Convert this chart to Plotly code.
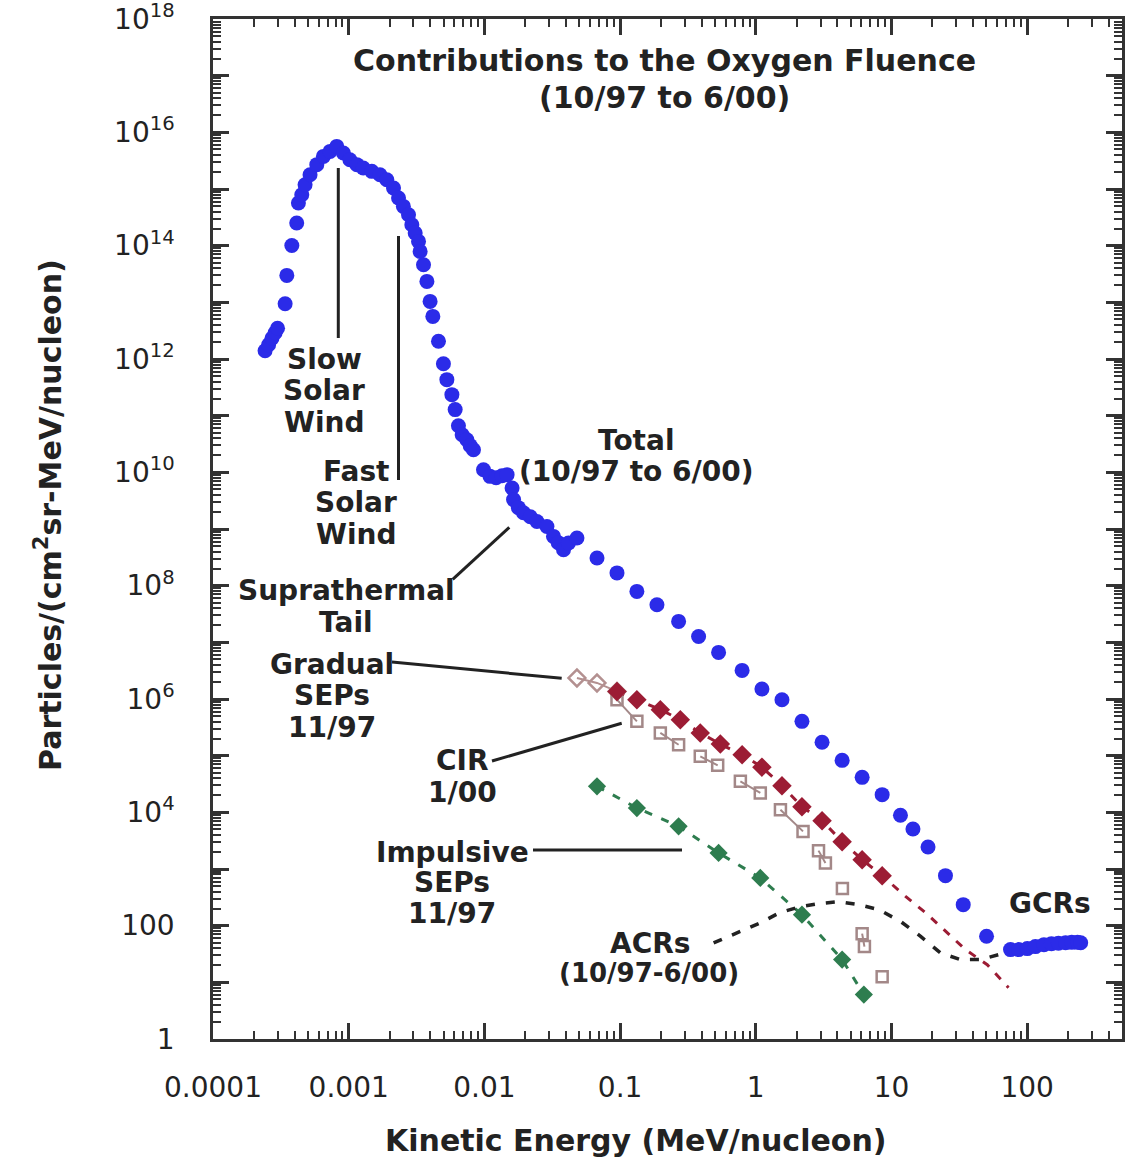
import plotly.graph_objects as go

# ---- Oxygen fluence contributions, 10/97 to 6/00 ----
# Total fluence (solar wind peak, suprathermal tail, high-energy tail, GCRs)
total_energy = [2.42e-4, 2.57e-4, 2.72e-4, 2.87e-4, 2.99e-4,
                3.40e-4, 3.50e-4, 3.81e-4, 4.14e-4, 4.26e-4,
                4.51e-4, 4.77e-4, 5.19e-4, 5.82e-4, 6.51e-4,
                7.29e-4, 8.17e-4, 9.14e-4, 1.02e-3, 1.15e-3,
                1.28e-3, 1.48e-3, 1.70e-3, 1.91e-3, 2.14e-3,
                2.33e-3, 2.53e-3, 2.76e-3, 2.92e-3, 3.09e-3,
                3.27e-3, 3.36e-3, 3.56e-3, 3.77e-3, 3.98e-3,
                4.17e-3, 4.59e-3, 4.99e-3, 5.29e-3, 5.76e-3,
                6.09e-3, 6.44e-3, 6.86e-3, 7.43e-3, 7.86e-3,
                8.31e-3, 9.85e-3, 1.10e-2, 1.22e-2, 1.35e-2,
                1.47e-2, 1.60e-2, 1.64e-2, 1.78e-2, 1.94e-2,
                2.18e-2, 2.44e-2, 2.89e-2, 3.23e-2, 3.50e-2,
                3.83e-2, 4.17e-2, 4.81e-2, 6.76e-2, 9.49e-2,
                0.133, 0.187, 0.270, 0.379, 0.532,
                0.793, 1.11, 1.56, 2.19, 3.08,
                4.33, 6.08, 8.54, 11.65, 14.4,
                18.6, 25.0, 33.8, 50.2,
                75.4, 86.4, 100.2, 115, 133, 151, 170, 192, 213, 235, 248]
total_flux = [1.40e12, 1.79e12, 2.33e12, 2.91e12, 3.50e12,
              9.46e12, 2.99e13, 1.01e14, 2.51e14, 5.66e14,
              7.94e14, 1.19e15, 1.79e15, 2.69e15, 3.76e15,
              4.61e15, 5.65e15, 4.32e15, 3.29e15, 2.69e15,
              2.35e15, 2.05e15, 1.79e15, 1.46e15, 1.04e15,
              6.93e14, 4.93e14, 3.52e14, 2.34e14, 1.67e14,
              1.19e14, 7.93e13, 4.62e13, 2.34e13, 1.04e13,
              5.65e12, 2.06e12, 8.26e11, 4.32e11, 2.35e11,
              1.28e11, 6.65e10, 4.62e10, 3.77e10, 2.96e10,
              2.51e10, 1.11e10, 8.49e9, 8.05e9, 8.73e9,
              9.10e9, 5.30e9, 3.30e9, 2.38e9, 1.94e9,
              1.65e9, 1.36e9, 1.11e9, 7.41e8, 5.74e8,
              4.32e8, 5.66e8, 6.95e8, 3.08e8, 1.68e8,
              7.93e7, 4.62e7, 2.34e7, 1.27e7, 6.65e6,
              3.20e6, 1.50e6, 9.73e5, 4.03e5, 1.72e5,
              8.26e4, 4.14e4, 2.05e4, 8.91e3, 5.09e3,
              2.45e3, 764, 235, 64.9,
              37.8, 37.8, 39.4, 42.7, 46.2, 48.2, 49.1, 50.1, 50.8, 50.8, 50.1]

# Gradual SEP event, 11/97
gradual_low_energy = [0.0481, 0.0676, 0.0949]
gradual_low_flux = [2.35e6, 1.92e6, 1.36e6]
gradual_energy = [0.0949, 0.133, 0.198, 0.278, 0.390, 0.548, 0.793,
                  1.11, 1.56, 2.19, 3.08, 4.33, 6.08, 8.54]
gradual_flux = [1.36e6, 9.73e5, 6.49e5, 4.32e5, 2.52e5, 1.60e5, 1.04e5,
                6.27e4, 2.96e4, 1.26e4, 7.13e3, 3.04e3, 1.46e3, 764]
gradual_fit_energy = [12.7, 17.8, 25.0, 35.1, 50.8, 72.9]
gradual_fit_flux = [329, 170, 79.4, 37.8, 20.5, 8.05]

# Corotating interaction region, 1/00
cir_energy = [0.0949, 0.133, 0.198, 0.270, 0.390, 0.524, 0.770, 1.08,
              1.52, 2.23, 2.90, 3.26, 4.35, 6.08, 6.32, 8.54]
cir_flux = [9.73e5, 4.03e5, 2.52e5, 1.56e5, 9.73e4, 6.75e4, 3.52e4, 2.20e4,
            1.11e4, 4.61e3, 2.11e3, 1.28e3, 451, 72.3, 42.7, 12.6]
cir_pairs = [(0, 1), (2, 3), (4, 5), (6, 7), (8, 9), (10, 11), (13, 14)]

# Impulsive SEP event, 11/97
impulsive_energy = [0.0676, 0.133, 0.270, 0.532, 1.08, 2.19, 4.33, 6.26]
impulsive_flux = [2.88e4, 1.19e4, 5.66e3, 1.92e3, 695, 156, 25.2, 6.07]

# Anomalous cosmic rays, 10/97-6/00
acr_energy = [0.489, 0.728, 1.08, 1.48, 2.13, 2.91, 4.09, 5.74, 8.06,
              11.65, 16.4, 23.0, 32.3, 45.3, 61.5, 72.9]
acr_flux = [49.6, 74.5, 112, 167, 217, 245, 265, 235, 192,
            119, 64.9, 33.0, 25.2, 25.2, 30.8, 36.2]

# Axis ticks
x_tick_vals = [1e-4, 1e-3, 1e-2, 1e-1, 1, 10, 100]
x_tick_text = ["0.0001", "0.001", "0.01", "0.1", "1", "10", "100"]
y_tick_vals = [float("1e%d" % k) for k in range(0, 19)]
y_tick_text = ["1", "", "100"] + [
    ("10<sup>%d</sup>" % k if k % 2 == 0 else "") for k in range(3, 19)]

BLUE = "#2b2be8"
RED = "#9c1c34"
GREEN = "#2e7d4f"
CIR_C = "#a38888"
GRAD_OPEN = "#b39090"
INK = "#222222"
FONT = "DejaVu Sans"

W, H = 1133, 1159
L, R, T, B = 213, 1122, 19, 1039


def px(x, y):
    """Pixel position on the page -> paper coordinates."""
    return (x - L) / (R - L), (B - y) / (B - T)


fig = go.Figure()

# CIR: open squares, joined in pairs
for i, j in cir_pairs:
    fig.add_trace(go.Scatter(
        x=[cir_energy[i], cir_energy[j]], y=[cir_flux[i], cir_flux[j]],
        mode="lines", line=dict(color=CIR_C, width=2), hoverinfo="skip"))
fig.add_trace(go.Scatter(
    x=cir_energy, y=cir_flux, mode="markers", name="CIR 1/00",
    marker=dict(symbol="square-open", size=11, color=CIR_C,
                line=dict(width=2.5, color=CIR_C))))

# Gradual SEPs: dashed fit through the filled points and beyond
fig.add_trace(go.Scatter(
    x=gradual_energy + gradual_fit_energy, y=gradual_flux + gradual_fit_flux,
    mode="lines", line=dict(color=RED, width=3, dash="8px,9px"),
    hoverinfo="skip"))
fig.add_trace(go.Scatter(
    x=gradual_low_energy, y=gradual_low_flux, mode="lines+markers",
    line=dict(color=GRAD_OPEN, width=2),
    marker=dict(symbol="diamond-open", size=13, color=GRAD_OPEN,
                line=dict(width=2.5, color=GRAD_OPEN))))
fig.add_trace(go.Scatter(
    x=gradual_energy, y=gradual_flux, mode="markers", name="Gradual SEPs",
    marker=dict(symbol="diamond", size=15, color=RED)))

# Impulsive SEPs
fig.add_trace(go.Scatter(
    x=impulsive_energy, y=impulsive_flux, mode="lines+markers",
    name="Impulsive SEPs",
    line=dict(color=GREEN, width=3, dash="8px,10px"),
    marker=dict(symbol="diamond", size=14, color=GREEN)))

# ACRs
fig.add_trace(go.Scatter(
    x=acr_energy, y=acr_flux, mode="lines", name="ACRs",
    line=dict(color=INK, width=3.5, dash="9px,11px")))

# Total fluence
fig.add_trace(go.Scatter(
    x=total_energy, y=total_flux, mode="markers", name="Total",
    marker=dict(symbol="circle", size=15, color=BLUE)))

# ---- labels and leader lines ----
annotations = []


def label(lines, x, y, size=28, spacing=31.5, bold=True):
    n = len(lines)
    for k, text in enumerate(lines):
        yy = y + (k - (n - 1) / 2) * spacing
        xp, yp = px(x, yy)
        annotations.append(dict(
            text=text, x=xp, y=yp, xref="paper", yref="paper",
            xanchor="center", yanchor="middle", showarrow=False,
            font=dict(family=FONT, size=size, color=INK,
                      weight="bold" if bold else "normal")))


label(["Contributions to the Oxygen Fluence", "(10/97 to 6/00)"],
      664, 79, size=30, spacing=37)
label(["Slow", "Solar", "Wind"], 324, 390.5)
label(["Fast", "Solar", "Wind"], 356, 502.5)
label(["Total", "(10/97 to 6/00)"], 636, 456, spacing=31)
label(["Suprathermal", "Tail"], 346, 606, spacing=32)
label(["Gradual", "SEPs", "11/97"], 332, 695.5)
label(["CIR", "1/00"], 462, 776, spacing=32)
label(["Impulsive", "SEPs", "11/97"], 452, 882.5, spacing=30.5)
label(["ACRs"], 650, 943)
label(["(10/97-6/00)"], 649, 973, size=26)
label(["GCRs"], 1050, 903)

# axis titles
xp, yp = px(635, 1140)
annotations.append(dict(
    text="Kinetic Energy (MeV/nucleon)", x=xp, y=yp, xref="paper",
    yref="paper", xanchor="center", yanchor="middle", showarrow=False,
    font=dict(family=FONT, size=30, color=INK, weight="bold")))
xp, yp = px(48, 515)
annotations.append(dict(
    text="Particles/(cm<sup>2</sup>sr-MeV/nucleon)", x=xp, y=yp,
    xref="paper", yref="paper", xanchor="center", yanchor="middle",
    showarrow=False, textangle=-90,
    font=dict(family=FONT, size=30, color=INK, weight="bold")))

shapes = []


def leader(x0, y0, x1, y1):
    a, b = px(x0, y0)
    c, d = px(x1, y1)
    shapes.append(dict(type="line", xref="paper", yref="paper",
                       x0=a, y0=b, x1=c, y1=d,
                       line=dict(color=INK, width=3)))


leader(338.3, 168, 338.3, 338)     # slow solar wind
leader(398.5, 236, 398.5, 480)     # fast solar wind
leader(452.7, 579.3, 509.3, 527.3)  # suprathermal tail
leader(392, 662, 561.7, 678.3)     # gradual SEPs
leader(492, 761, 621.7, 723.3)     # CIR
leader(533, 850, 682, 850)         # impulsive SEPs

minor_vals_x = [m * 10.0 ** k for k in range(-4, 3) for m in range(2, 10)]
minor_vals_y = [m * 10.0 ** k for k in range(0, 18) for m in range(2, 10)]

axis_common = dict(
    showline=True, linecolor="#333333", linewidth=2.5, mirror="ticks",
    ticks="inside", ticklen=16, tickwidth=2.5, tickcolor="#333333",
    showgrid=False, zeroline=False, ticklabeloverflow="allow",
    automargin=False,
    tickfont=dict(family=FONT, size=28, color=INK),
)

fig.update_layout(
    width=W, height=H,
    margin=dict(l=L, r=W - R, t=T, b=H - B, autoexpand=False),
    paper_bgcolor="white", plot_bgcolor="white",
    showlegend=False,
    xaxis=dict(type="log", range=[-4, 2.699],
               tickmode="array", tickvals=x_tick_vals, ticktext=x_tick_text,
               ticklabelstandoff=22,
               minor=dict(tickmode="array", tickvals=minor_vals_x,
                          ticks="inside", ticklen=8, tickwidth=1.5,
                          tickcolor="#333333"),
               **axis_common),
    yaxis=dict(type="log", range=[0, 18.0002],
               tickmode="array", tickvals=y_tick_vals, ticktext=y_tick_text,
               ticklabelstandoff=30,
               minor=dict(tickmode="array", tickvals=minor_vals_y,
                          ticks="inside", ticklen=8, tickwidth=1.5,
                          tickcolor="#333333"),
               **axis_common),
    annotations=annotations,
    shapes=shapes,
)

fig.write_html("out.html")
